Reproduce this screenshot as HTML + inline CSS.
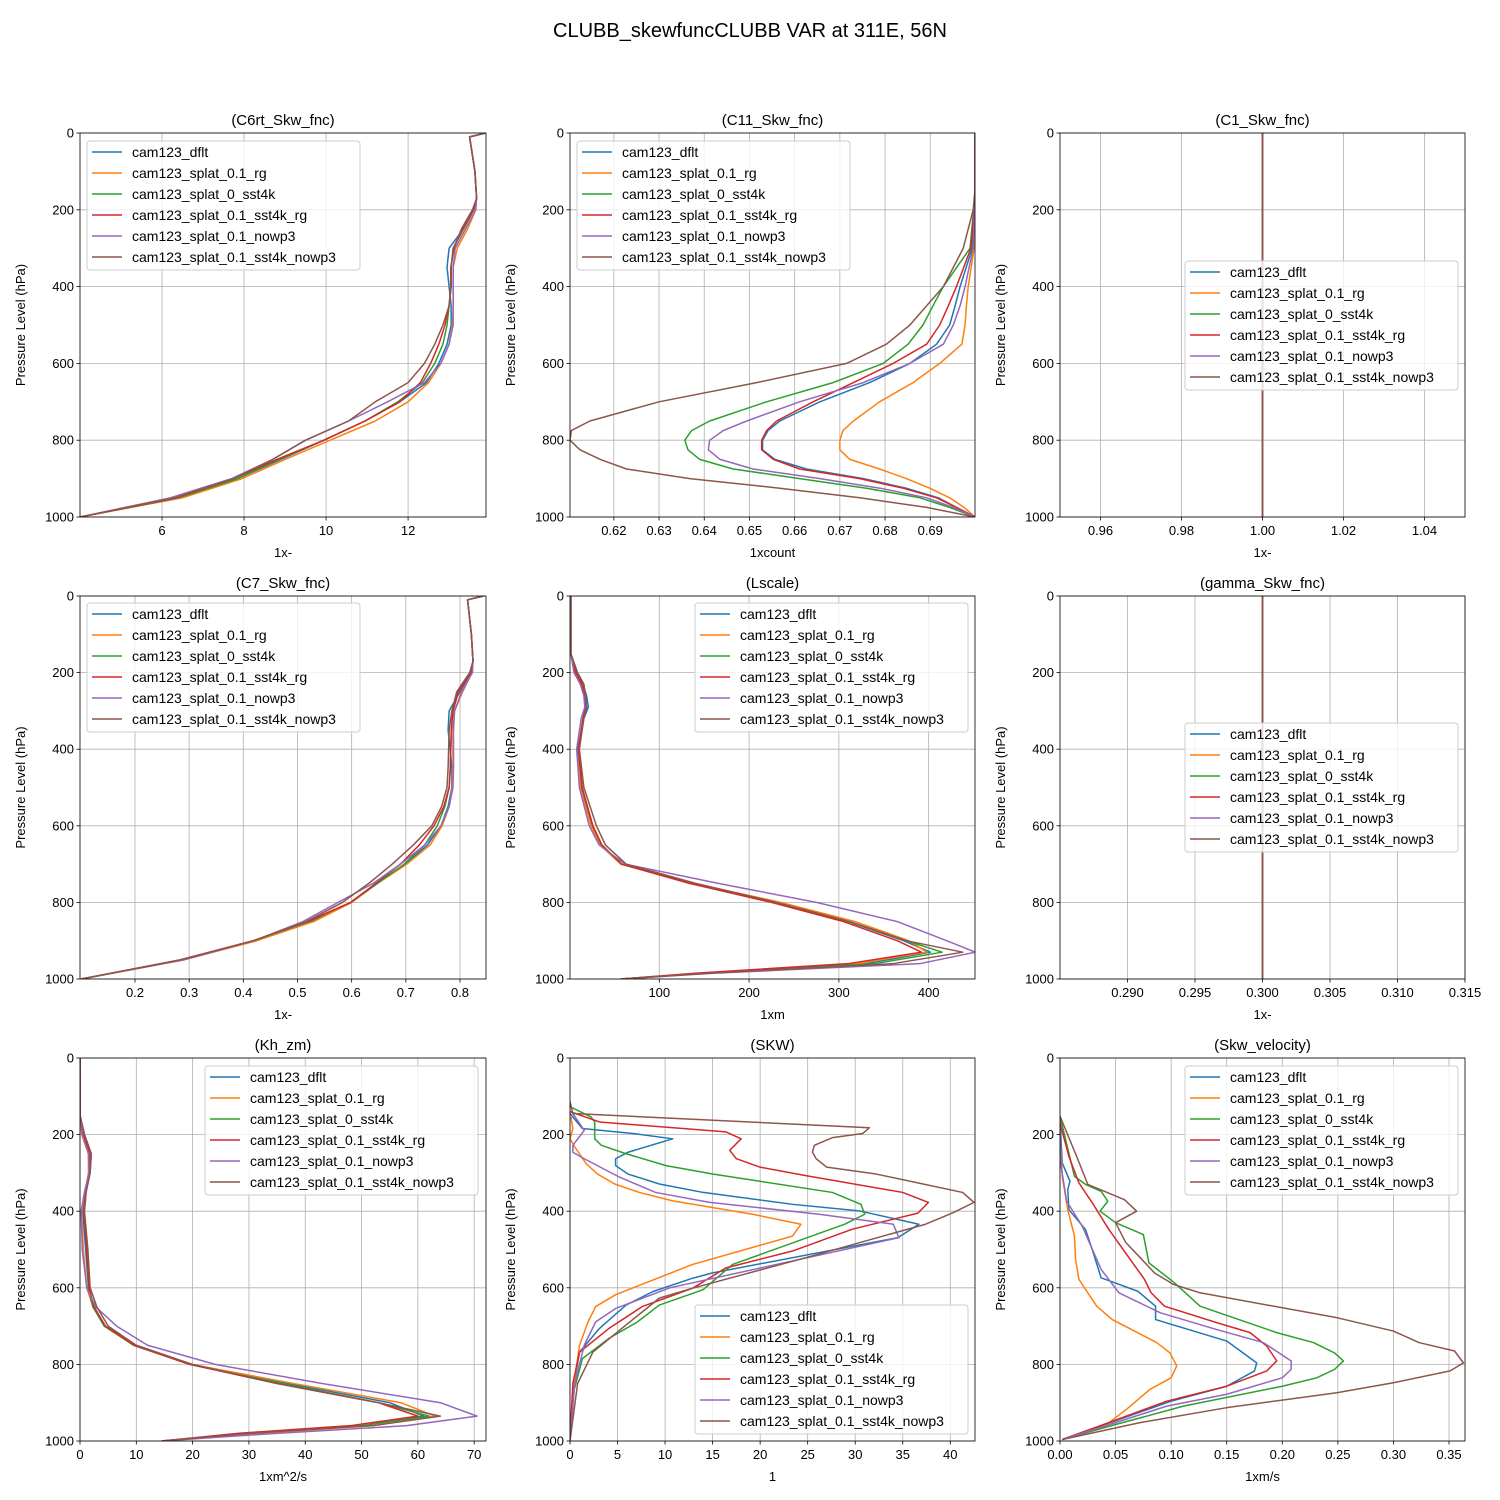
<!DOCTYPE html>
<html><head><meta charset="utf-8"><style>
body{margin:0;background:#fff;}
svg{display:block;font-family:"Liberation Sans","DejaVu Sans",sans-serif;}
</style></head><body>
<svg id="fig" width="1500" height="1500" viewBox="0 0 1500 1500" xmlns="http://www.w3.org/2000/svg">
<rect width="1500" height="1500" fill="#fff"/>
<text x="750" y="37" font-size="20" text-anchor="middle" fill="#000">CLUBB_skewfuncCLUBB VAR at 311E, 56N</text>
</svg>
<script>
const seriesNames = ["cam123_dflt","cam123_splat_0.1_rg","cam123_splat_0_sst4k","cam123_splat_0.1_sst4k_rg","cam123_splat_0.1_nowp3","cam123_splat_0.1_sst4k_nowp3"];
const colors = ["#1f77b4","#ff7f0e","#2ca02c","#d62728","#9467bd","#8c564b"];
const yTicks = [0,200,400,600,800,1000];

// C6rt & C7
const levelsA = [0,10,100,170,200,250,300,350,400,450,500,550,600,650,700,750,800,850,900,950,1000];
const c6_dflt = [13.89,13.5,13.63,13.67,13.6,13.35,13.0,12.95,13.0,13.05,13.05,12.95,12.75,12.45,11.8,10.95,9.95,8.9,7.85,6.4,4.0];
const c6_rg = [13.89,13.5,13.63,13.67,13.65,13.45,13.2,13.1,13.1,13.1,13.08,13.0,12.8,12.5,12.0,11.2,10.1,9.0,7.95,6.5,4.0];
const c6_sst4k = [13.89,13.5,13.63,13.67,13.6,13.35,13.1,13.05,13.05,13.0,12.95,12.85,12.65,12.35,11.75,10.95,9.95,8.85,7.85,6.4,4.0];
const c6_sst4krg = [13.89,13.5,13.63,13.67,13.6,13.33,13.1,13.05,13.05,13.0,12.9,12.75,12.55,12.3,11.8,10.95,9.95,8.8,7.75,6.35,4.0];
const c6_nowp3 = [13.89,13.5,13.63,13.67,13.65,13.4,13.15,13.1,13.1,13.1,13.1,13.0,12.8,12.4,11.5,10.55,9.5,8.7,7.7,6.2,4.0];
const c6_sst4knowp3 = [13.89,13.5,13.63,13.67,13.57,13.3,13.12,13.04,13.04,13.0,12.85,12.65,12.4,12.0,11.2,10.55,9.5,8.7,7.75,6.3,4.0];

const c7_dflt = [0.843,0.814,0.821,0.824,0.82,0.8,0.78,0.778,0.782,0.785,0.785,0.778,0.765,0.74,0.7,0.645,0.6,0.525,0.422,0.287,0.101];
const c7_rg = [0.843,0.814,0.821,0.824,0.822,0.805,0.79,0.787,0.787,0.787,0.786,0.78,0.767,0.745,0.702,0.648,0.6,0.53,0.425,0.29,0.101];
const c7_sst4k = [0.843,0.814,0.821,0.824,0.82,0.797,0.787,0.784,0.783,0.782,0.78,0.772,0.758,0.735,0.697,0.648,0.598,0.52,0.42,0.285,0.101];
const c7_sst4krg = [0.843,0.814,0.821,0.824,0.82,0.797,0.787,0.784,0.783,0.782,0.78,0.77,0.752,0.725,0.69,0.645,0.598,0.518,0.418,0.283,0.101];
const c7_nowp3 = [0.843,0.814,0.821,0.824,0.823,0.803,0.79,0.788,0.788,0.788,0.787,0.78,0.765,0.735,0.69,0.64,0.575,0.51,0.42,0.29,0.101];
const c7_sst4knowp3 = [0.843,0.814,0.821,0.824,0.818,0.794,0.785,0.78,0.779,0.778,0.776,0.766,0.748,0.714,0.675,0.632,0.583,0.516,0.419,0.284,0.101];

// C11
const levelsB = [0,150,200,300,400,450,500,550,600,650,700,750,775,800,825,850,875,900,925,950,975,1000];
const c11_dflt = [0.6999,0.6999,0.6998,0.6993,0.6966,0.6955,0.6943,0.6914,0.6855,0.6766,0.6656,0.6567,0.6541,0.6529,0.6529,0.6556,0.6626,0.6752,0.6847,0.6918,0.6958,0.6999];
const c11_rg = [0.6999,0.6999,0.6999,0.6997,0.6984,0.698,0.6977,0.697,0.6921,0.6862,0.6788,0.673,0.6707,0.67,0.67,0.6722,0.6788,0.6847,0.6899,0.6943,0.6975,0.6999];
const c11_sst4k = [0.6999,0.6999,0.6996,0.6988,0.6929,0.6906,0.6884,0.6851,0.6796,0.6685,0.6538,0.6412,0.6372,0.6357,0.6364,0.639,0.6464,0.6611,0.6759,0.6877,0.6943,0.6999];
const c11_sst4krg = [0.6999,0.6999,0.6997,0.699,0.6958,0.694,0.6921,0.6892,0.6818,0.673,0.6641,0.656,0.6538,0.6527,0.6527,0.6553,0.6611,0.6744,0.684,0.6914,0.6958,0.6999];
const c11_nowp3 = [0.6999,0.6999,0.6998,0.6995,0.6977,0.6966,0.6951,0.6929,0.6855,0.6752,0.6611,0.6494,0.6442,0.6412,0.6409,0.6435,0.6508,0.6656,0.6789,0.6892,0.6951,0.6999];
const c11_sst4knowp3 = [0.6999,0.6999,0.6995,0.6973,0.6929,0.6892,0.6855,0.6803,0.6715,0.6516,0.630,0.6147,0.6106,0.6103,0.6125,0.617,0.6228,0.6368,0.6567,0.6744,0.6892,0.6999];

// constants
const levelsC = [0,1000];
const c1_value = [1.0,1.0];
const gamma_value = [0.3,0.3];

// Lscale
const levelsL = [0,150,200,230,260,290,320,400,500,600,650,700,750,800,850,900,930,960,985,1000];
const ls_dflt = [1.5,1.5,8,15,19,21,16,9,13,25,35,58,135,228,310,372,402,330,150,57];
const ls_rg = [1.5,1.5,6,13,17,18,15,10,12,24,34,57,138,235,318,378,398,320,145,57];
const ls_sst4k = [1.5,1.5,7,14,17,18,15,10,14,26,36,58,135,228,310,375,415,340,150,57];
const ls_sst4krg = [1.5,1.5,7,14,17,18,15,10,14,26,36,58,133,225,305,365,392,310,140,57];
const ls_nowp3 = [1.5,1.5,5,12,16,17,13,8,11,22,33,62,165,275,365,420,452,390,160,57];
const ls_sst4knowp3 = [1.5,1.5,9,16,18,19,16,11,16,30,40,63,140,230,312,375,438,360,155,57];

// Kh_zm
const levelsK = [0,150,200,250,300,350,400,500,600,650,700,750,800,850,900,935,960,980,1000];
const kh_dflt = [0,0,0.8,2,1.8,1,0.5,1,1.5,2.5,4.5,9.8,19.5,37,55,61,50,30,14.5];
const kh_rg = [0,0,0.3,1.5,1.5,0.9,0.3,0.6,1.2,2.3,4.5,9.8,19.8,38,57,63,52,32,14.5];
const kh_sst4k = [0,0,0.6,1.8,1.7,1,0.7,1.2,1.5,2.3,4.3,9.5,19.5,36,53,62,50,30,14.5];
const kh_sst4krg = [0,0,0.6,1.8,1.7,1,0.7,1.2,1.6,2.5,4.5,9.6,19.5,35,53,60,48,28,14.5];
const kh_nowp3 = [0,0,0.4,1.5,1.6,0.8,0.2,0.4,1.2,2.8,6.5,12,24,43,64,70.5,58,35,14.5];
const kh_sst4knowp3 = [0,0,0.8,2,1.8,1.1,0.8,1.4,1.8,3,5,10,20,35,53,64,52,30,14.5];

// SKW
const skwP_dflt = [145,184,197,211,246,263,281,303,329,351,382,399,434,469,561,575,610,645,706,768,870,1000];
const skwX_dflt = [0,1.3,6.6,10.8,6.1,4.8,4.8,6.1,9.4,14,23.4,30.4,36.7,34.5,15,12.9,8.7,5.9,3.1,1,0.3,0];
const skwP_rg = [154,184,211,232,276,303,329,351,373,408,434,465,539,618,649,689,750,870,1000];
const skwX_rg = [0.1,0.3,0,0.5,1.7,2.9,4.7,7.3,10.8,19.2,24.3,23.4,12.9,4.8,2.7,1.9,1,0.3,0];
const skwP_sst4k = [127,154,167,211,228,250,281,303,351,382,408,434,539,605,645,689,732,785,880,1000];
const skwX_sst4k = [0,2.2,2.6,2.6,3.3,5.9,10.1,15,27.6,30.6,31,28.9,17.1,14,9.4,7.1,4.1,1.3,0.3,0];
const skwP_sst4krg = [140,167,193,211,241,263,285,307,351,377,405,447,504,548,601,649,706,768,850,1000];
const skwX_sst4krg = [0,3.1,16.4,18,16.8,17.5,20,24.8,35,37.7,36.6,29.7,23.4,16.4,12.9,7.6,4.1,1,0.3,0];
const skwP_nowp3 = [145,189,228,246,263,311,351,377,408,434,469,600,654,689,750,850,1000];
const skwX_nowp3 = [0.3,1.5,0.3,0.3,1.5,5.2,9,14.7,26.2,34,34.6,10.5,4.8,2.7,1.5,0.5,0];
const skwP_sst4knowp3 = [114,145,182,197,208,228,246,263,285,303,325,351,377,404,434,520,601,627,697,768,850,1000];
const skwX_sst4knowp3 = [0,0.3,31.5,30.8,27.6,25.7,25.5,25.9,27,32.2,36.4,41.3,42.5,40.3,37.4,25,12.9,9.4,5.9,2.4,0.8,0];

// Skw_velocity
const svP_dflt = [161,274,322,343,396,448,500,574,609,648,683,739,796,817,857,896,952,996];
const svX_dflt = [0,.002,.009,.007,.008,.023,.029,.037,.07,.086,.086,.15,.177,.175,.15,.1,.045,.002];
const svP_rg = [196,309,396,465,526,578,648,683,743,770,804,835,865,917,961,996];
const svX_rg = [0,.002,.007,.013,.014,.017,.033,.047,.087,.099,.105,.1,.081,.06,.04,.002];
const svP_sst4k = [152,309,330,348,374,400,430,461,535,587,648,717,743,770,791,813,835,857,909,957,996];
const svX_sst4k = [0,.013,.023,.037,.043,.036,.05,.075,.08,.103,.126,.195,.228,.247,.255,.247,.231,.2,.111,.05,.002];
const svP_sst4krg = [170,257,326,378,448,509,578,613,648,691,717,752,791,817,857,896,952,996];
const svX_sst4krg = [0,.008,.017,.029,.044,.059,.076,.082,.094,.141,.171,.186,.195,.186,.15,.096,.044,.002];
const svP_nowp3 = [178,283,374,439,552,613,665,709,743,791,813,835,878,909,952,996];
const svX_nowp3 = [0,.001,.006,.02,.037,.053,.09,.141,.183,.208,.208,.2,.15,.096,.05,.002];
const svP_sst4knowp3 = [152,250,330,370,400,430,481,561,591,613,678,713,743,765,796,817,848,874,913,952,996];
const svX_sst4knowp3 = [0,.014,.025,.058,.069,.05,.059,.085,.102,.126,.249,.3,.323,.355,.363,.351,.3,.249,.15,.072,.002];

const NS = "http://www.w3.org/2000/svg";
const fig = document.getElementById("fig");
function mk(tag, attrs, parent){
  const e = document.createElementNS(NS, tag);
  for (const k in attrs) e.setAttribute(k, attrs[k]);
  (parent||fig).appendChild(e);
  return e;
}

const panels = [
 {key:"c6rt", title:"(C6rt_Skw_fnc)", xl:"1x-", L:80,T:133,W:406,H:384, xmin:4.0,xmax:13.9, xticks:[6,8,10,12], dec:0,
  p:[levelsA,levelsA,levelsA,levelsA,levelsA,levelsA], x:[c6_dflt,c6_rg,c6_sst4k,c6_sst4krg,c6_nowp3,c6_sst4knowp3], lg:[87,141]},
 {key:"c11", title:"(C11_Skw_fnc)", xl:"1xcount", L:570,T:133,W:405,H:384, xmin:0.6103,xmax:0.6999, xticks:[0.62,0.63,0.64,0.65,0.66,0.67,0.68,0.69], dec:2,
  p:[levelsB,levelsB,levelsB,levelsB,levelsB,levelsB], x:[c11_dflt,c11_rg,c11_sst4k,c11_sst4krg,c11_nowp3,c11_sst4knowp3], lg:[577,141]},
 {key:"c1", title:"(C1_Skw_fnc)", xl:"1x-", L:1060,T:133,W:405,H:384, xmin:0.95,xmax:1.05, xticks:[0.96,0.98,1.0,1.02,1.04], dec:2,
  p:[levelsC,levelsC,levelsC,levelsC,levelsC,levelsC], x:[c1_value,c1_value,c1_value,c1_value,c1_value,c1_value], lg:[1185,261]},
 {key:"c7", title:"(C7_Skw_fnc)", xl:"1x-", L:80,T:596,W:406,H:383, xmin:0.0985,xmax:0.848, xticks:[0.2,0.3,0.4,0.5,0.6,0.7,0.8], dec:1,
  p:[levelsA,levelsA,levelsA,levelsA,levelsA,levelsA], x:[c7_dflt,c7_rg,c7_sst4k,c7_sst4krg,c7_nowp3,c7_sst4knowp3], lg:[87,603]},
 {key:"lscale", title:"(Lscale)", xl:"1xm", L:570,T:596,W:405,H:383, xmin:0.56,xmax:451.6, xticks:[100,200,300,400], dec:0,
  p:[levelsL,levelsL,levelsL,levelsL,levelsL,levelsL], x:[ls_dflt,ls_rg,ls_sst4k,ls_sst4krg,ls_nowp3,ls_sst4knowp3], lg:[695,603]},
 {key:"gamma", title:"(gamma_Skw_fnc)", xl:"1x-", L:1060,T:596,W:405,H:383, xmin:0.285,xmax:0.315, xticks:[0.29,0.295,0.3,0.305,0.31,0.315], dec:3,
  p:[levelsC,levelsC,levelsC,levelsC,levelsC,levelsC], x:[gamma_value,gamma_value,gamma_value,gamma_value,gamma_value,gamma_value], lg:[1185,723]},
 {key:"khzm", title:"(Kh_zm)", xl:"1xm^2/s", L:80,T:1058,W:406,H:383, xmin:0,xmax:72.1, xticks:[0,10,20,30,40,50,60,70], dec:0,
  p:[levelsK,levelsK,levelsK,levelsK,levelsK,levelsK], x:[kh_dflt,kh_rg,kh_sst4k,kh_sst4krg,kh_nowp3,kh_sst4knowp3], lg:[205,1066]},
 {key:"skw", title:"(SKW)", xl:"1", L:570,T:1058,W:405,H:383, xmin:0,xmax:42.6, xticks:[0,5,10,15,20,25,30,35,40], dec:0,
  p:[skwP_dflt,skwP_rg,skwP_sst4k,skwP_sst4krg,skwP_nowp3,skwP_sst4knowp3], x:[skwX_dflt,skwX_rg,skwX_sst4k,skwX_sst4krg,skwX_nowp3,skwX_sst4knowp3], lg:[695,1305]},
 {key:"skwvel", title:"(Skw_velocity)", xl:"1xm/s", L:1060,T:1058,W:405,H:383, xmin:0,xmax:0.3644, xticks:[0,0.05,0.1,0.15,0.2,0.25,0.3,0.35], dec:2,
  p:[svP_dflt,svP_rg,svP_sst4k,svP_sst4krg,svP_nowp3,svP_sst4knowp3], x:[svX_dflt,svX_rg,svX_sst4k,svX_sst4krg,svX_nowp3,svX_sst4knowp3], lg:[1185,1066]}
];

panels.forEach((P, pi) => {
  const g = mk("g", {});
  
  
  const xs = v => P.L + (v - P.xmin) / (P.xmax - P.xmin) * P.W;
  const ys = p => P.T + p / 1000 * P.H;
  const cp = mk("clipPath", {id:"cp"+pi}, g);
  mk("rect", {x:P.L, y:P.T, width:P.W, height:P.H}, cp);
  // grid
  P.xticks.forEach(t => {
    const x = xs(t);
    const gl = mk("line", {x1:x, x2:x, y1:P.T, y2:P.T+P.H, stroke:"#b0b0b0", "stroke-width":0.8}, g);
    
    
    mk("line", {x1:x, x2:x, y1:P.T+P.H, y2:P.T+P.H+3.5, stroke:"#000", "stroke-width":0.8}, g);
    const tl = mk("text", {x:x, y:P.T+P.H+18, "font-size":13, "text-anchor":"middle", fill:"#000"}, g);
    tl.textContent = t.toFixed(P.dec);
    
    
  });
  yTicks.forEach(t => {
    const y = ys(t);
    const gl = mk("line", {x1:P.L, x2:P.L+P.W, y1:y, y2:y, stroke:"#b0b0b0", "stroke-width":0.8}, g);
    
    
    mk("line", {x1:P.L-3.5, x2:P.L, y1:y, y2:y, stroke:"#000", "stroke-width":0.8}, g);
    const tl = mk("text", {x:P.L-6, y:y+4.5, "font-size":13, "text-anchor":"end", fill:"#000"}, g);
    tl.textContent = String(t);
    
    
  });
  // series
  const sg = mk("g", {"clip-path":"url(#cp"+pi+")"}, g);
  for (let s = 0; s < 6; s++) {
    const pa = P.p[s], xa = P.x[s];
    let d = "";
    for (let i = 0; i < pa.length; i++) d += (i ? "L" : "M") + xs(xa[i]).toFixed(2) + "," + ys(pa[i]).toFixed(2);
    const path = mk("path", {d:d, fill:"none", stroke:colors[s], "stroke-width":1.5, "stroke-linejoin":"round"}, sg);
    
    
  }
  // frame
  mk("rect", {x:P.L, y:P.T, width:P.W, height:P.H, fill:"none", stroke:"#000", "stroke-width":0.8}, g);
  // titles
  const tt = mk("text", {x:P.L+P.W/2, y:P.T-8, "font-size":15, "text-anchor":"middle", fill:"#000"}, g);
  tt.textContent = P.title;
  
  
  const xl = mk("text", {x:P.L+P.W/2, y:P.T+P.H+40, "font-size":13, "text-anchor":"middle", fill:"#000"}, g);
  xl.textContent = P.xl;
  
  
  const yx = P.L - 55, yy = P.T + P.H/2;
  const yl = mk("text", {x:yx, y:yy, "font-size":13, "text-anchor":"middle", fill:"#000", transform:"rotate(-90 "+yx+" "+yy+")"}, g);
  yl.textContent = "Pressure Level (hPa)";
  
  
  // legend
  const lx = P.lg[0], ly = P.lg[1];
  const lgG = mk("g", {}, g);
  
  
  mk("rect", {x:lx, y:ly, width:273, height:129, rx:3, fill:"#fff", "fill-opacity":0.8, stroke:"#cccccc", "stroke-width":1}, lgG);
  for (let s = 0; s < 6; s++) {
    const cy = ly + 11 + 21 * s;
    const eg = mk("g", {}, lgG);
    
    
    mk("line", {x1:lx+5, x2:lx+35, y1:cy, y2:cy, stroke:colors[s], "stroke-width":1.5}, eg);
    const lt = mk("text", {x:lx+45, y:cy+5, "font-size":14, fill:"#000"}, eg);
    lt.textContent = seriesNames[s];
  }
});
</script>
</body></html>
